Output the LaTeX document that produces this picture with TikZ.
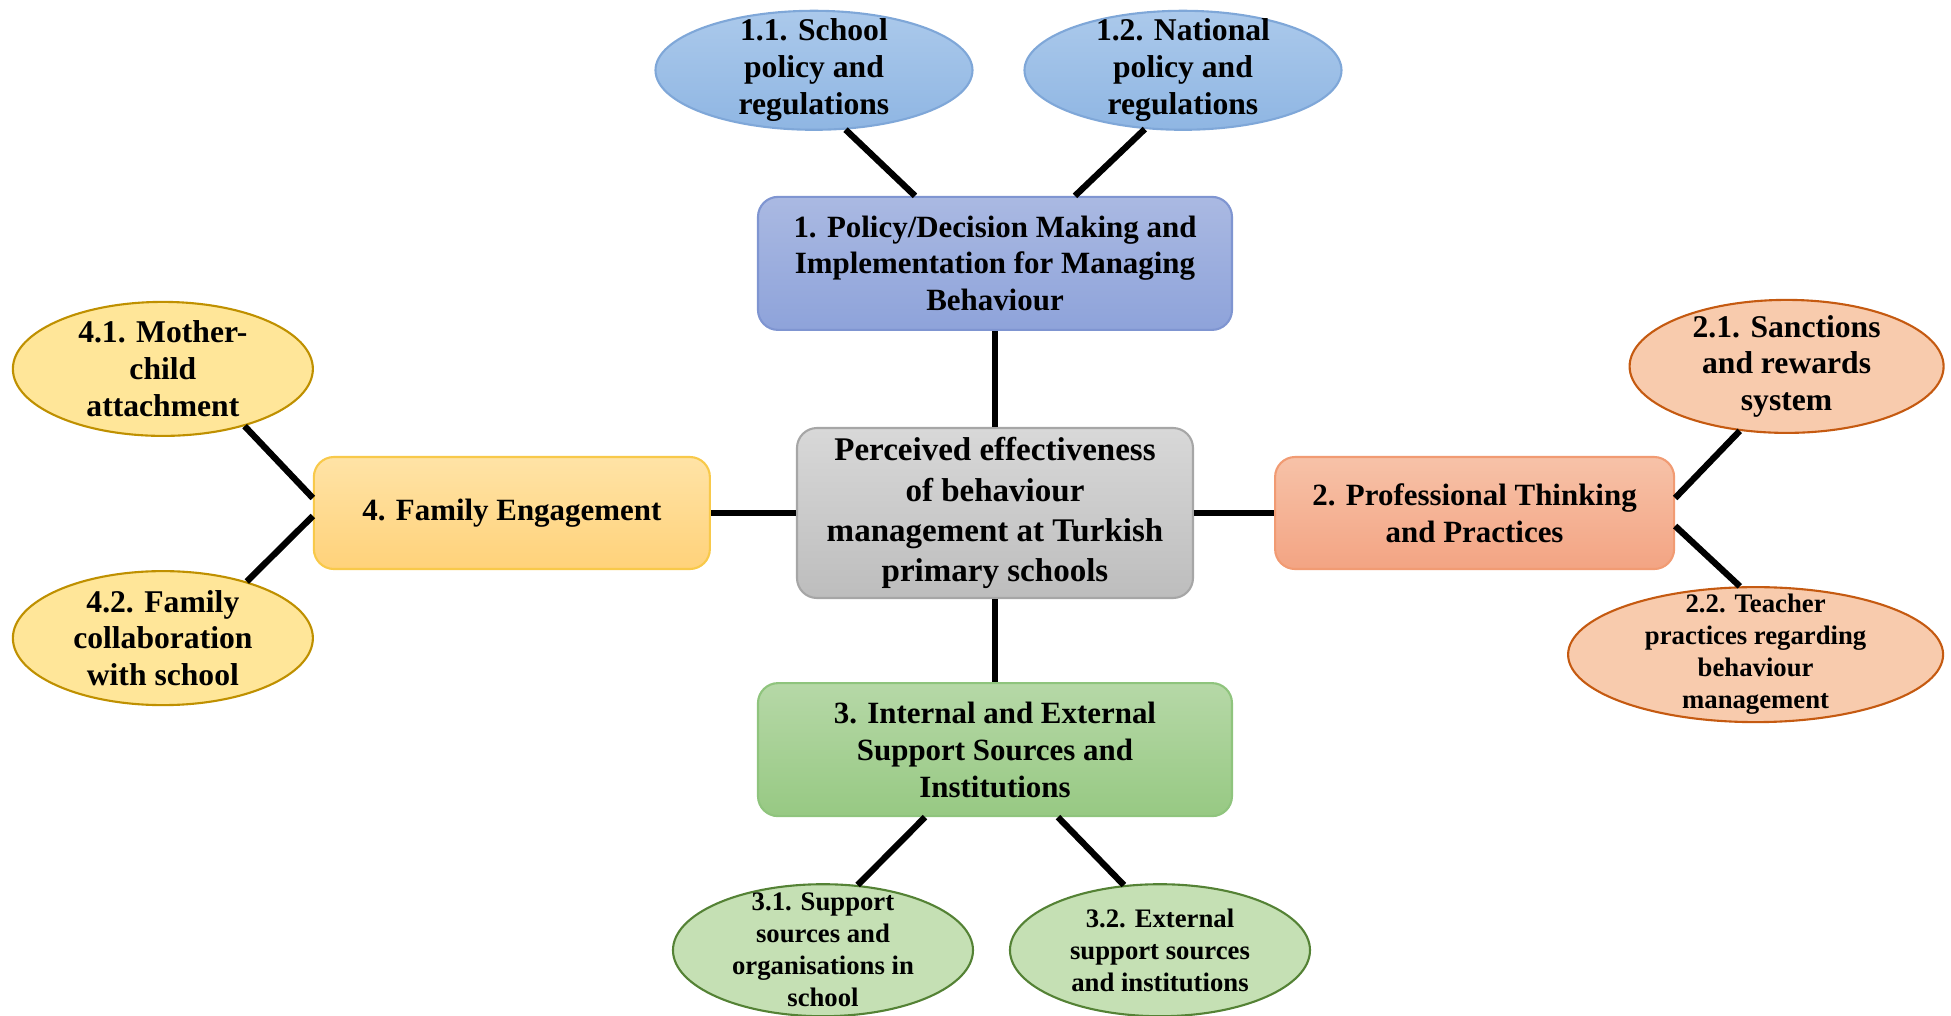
\documentclass[tikz,border=0pt]{standalone}
\usepackage{fontspec}
\setmainfont{Liberation Serif}
\usetikzlibrary{positioning,shapes.geometric}

\definecolor{bluetop}{HTML}{AAB9E2}
\definecolor{bluebot}{HTML}{8EA3DA}
\definecolor{blueline}{HTML}{7F95D1}
\definecolor{lbluetop}{HTML}{ABC9EB}
\definecolor{lbluebot}{HTML}{8FB6E3}
\definecolor{lblueline}{HTML}{7FA7D8}
\definecolor{greytop}{HTML}{D8D8D8}
\definecolor{greybot}{HTML}{BDBDBD}
\definecolor{greyline}{HTML}{A6A6A6}
\definecolor{orangetop}{HTML}{F7C2A8}
\definecolor{orangebot}{HTML}{F3A483}
\definecolor{orangeline}{HTML}{F19B73}
\definecolor{orangeoval}{HTML}{F8CBAD}
\definecolor{orangeedge}{HTML}{C55A11}
\definecolor{yellowtop}{HTML}{FFE3A6}
\definecolor{yellowbot}{HTML}{FFD27A}
\definecolor{yellowline}{HTML}{F8C94A}
\definecolor{yellowoval}{HTML}{FFE699}
\definecolor{yellowedge}{HTML}{BF9000}
\definecolor{greentop}{HTML}{B6D8A7}
\definecolor{greenbot}{HTML}{97C983}
\definecolor{greenline}{HTML}{8FC47D}
\definecolor{greenoval}{HTML}{C5E0B4}
\definecolor{greenedge}{HTML}{548235}

\tikzset{
  box/.style={rectangle, rounded corners=2mm, draw, line width=0.6pt, align=center,
    inner sep=1pt, font=\bfseries\fontsize{8.8}{10.5}\selectfont},
  oval/.style={ellipse, draw, line width=0.6pt, align=center, inner sep=-10pt,
    font=\bfseries\fontsize{9}{10.5}\selectfont},
  smalloval/.style={oval, font=\bfseries\fontsize{7.6}{9.1}\selectfont},
  link/.style={line width=1.8pt, black},
}

\begin{document}
\begin{tikzpicture}

  \useasboundingbox (-9.95,-5.02) rectangle (9.56,5.13);

  % Main nodes
  \node[box, top color=greytop, bottom color=greybot, draw=greyline,
        minimum width=3.96cm, minimum height=1.70cm,
        font=\bfseries\fontsize{9.4}{11.4}\selectfont] (centre) at (0,0)
        {Perceived effectiveness\\of behaviour\\management at Turkish\\primary schools};
  \node[box, top color=bluetop, bottom color=bluebot, draw=blueline,
        minimum width=4.74cm, minimum height=1.33cm, above=0.96cm of centre] (policy)
        {1. Policy/Decision Making and\\Implementation for Managing\\Behaviour};
  \node[box, top color=orangetop, bottom color=orangebot, draw=orangeline,
        minimum width=3.99cm, minimum height=1.12cm, right=0.80cm of centre] (thinking)
        {2. Professional Thinking\\and Practices};
  \node[box, top color=greentop, bottom color=greenbot, draw=greenline,
        minimum width=4.74cm, minimum height=1.33cm, below=0.83cm of centre] (support)
        {3. Internal and External\\Support Sources and\\Institutions};
  \node[box, top color=yellowtop, bottom color=yellowbot, draw=yellowline,
        minimum width=3.96cm, minimum height=1.12cm, left=0.85cm of centre] (family)
        {4. Family Engagement};

  % Sub themes
  \node[oval, top color=lbluetop, bottom color=lbluebot, draw=lblueline,
        minimum width=3.17cm, minimum height=1.19cm,
        above=0.65cm of policy, xshift=-1.81cm] (school)
        {1.1. School\\policy and\\regulations};
  \node[oval, top color=lbluetop, bottom color=lbluebot, draw=lblueline,
        minimum width=3.17cm, minimum height=1.19cm,
        above=0.65cm of policy, xshift=1.88cm] (national)
        {1.2. National\\policy and\\regulations};
  \node[oval, fill=orangeoval, draw=orangeedge,
        minimum width=3.14cm, minimum height=1.33cm,
        above=0.22cm of thinking, xshift=3.12cm] (sanctions)
        {2.1. Sanctions\\and rewards\\system};
  \node[smalloval, fill=orangeoval, draw=orangeedge,
        minimum width=3.75cm, minimum height=1.35cm,
        below=0.16cm of thinking, xshift=2.81cm] (teacher)
        {2.2. Teacher\\practices regarding\\behaviour\\management};
  \node[smalloval, fill=greenoval, draw=greenedge,
        minimum width=3.0cm, minimum height=1.32cm,
        below=0.66cm of support, xshift=-1.72cm] (inschool)
        {3.1. Support\\sources and\\organisations in\\school};
  \node[smalloval, fill=greenoval, draw=greenedge,
        minimum width=3.0cm, minimum height=1.32cm,
        below=0.66cm of support, xshift=1.65cm] (external)
        {3.2. External\\support sources\\and institutions};
  \node[oval, fill=yellowoval, draw=yellowedge,
        minimum width=3.0cm, minimum height=1.34cm,
        above=0.19cm of family, xshift=-3.49cm] (mother)
        {4.1. Mother-\\child\\attachment};
  \node[oval, fill=yellowoval, draw=yellowedge,
        minimum width=3.0cm, minimum height=1.34cm,
        below=0cm of family, xshift=-3.49cm] (collab)
        {4.2. Family\\collaboration\\with school};

  % Connect the nodes
  \draw[link] (centre) -- (policy);
  \draw[link] (centre) -- (thinking);
  \draw[link] (centre) -- (support);
  \draw[link] (centre) -- (family);

  \draw[link] (school.-62) -- ([xshift=-8mm]policy.north);
  \draw[link] (national.-123) -- ([xshift=8mm]policy.north);
  \draw[link] (sanctions.-126) -- ([yshift=1.5mm]thinking.east);
  \draw[link] (teacher.103) -- ([yshift=-1.3mm]thinking.east);
  \draw[link] (inschool.62) -- ([xshift=-7mm]support.south);
  \draw[link] (external.119) -- ([xshift=6.3mm]support.south);
  \draw[link] (mother.-35) -- ([yshift=1.5mm]family.west);
  \draw[link] (collab.34) -- ([yshift=-0.3mm]family.west);

\end{tikzpicture}
\end{document}
